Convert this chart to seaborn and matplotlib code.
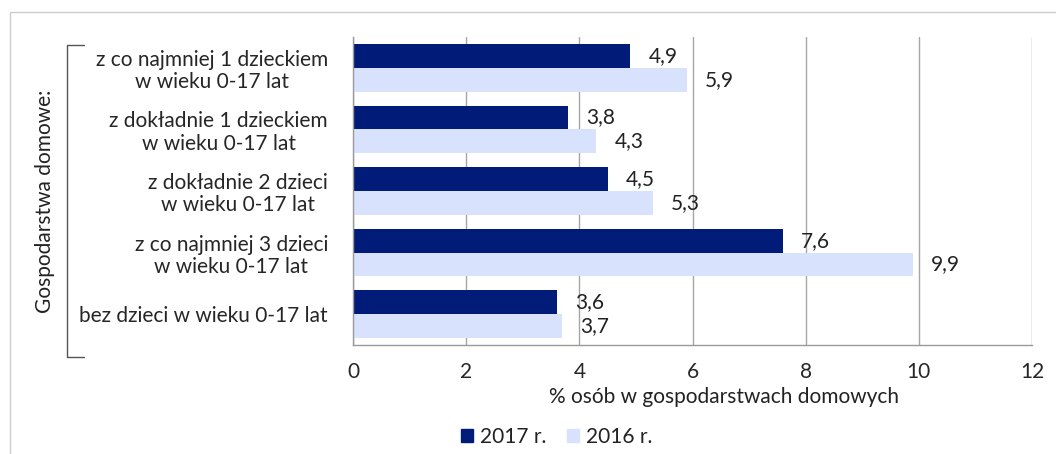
import matplotlib
matplotlib.use("Agg")
import matplotlib.pyplot as plt
import matplotlib.lines as mlines
import matplotlib.patches as mpatches
import seaborn as sns
import pandas as pd

# dane
kategorie = [
    "z co najmniej 1 dzieckiem\nw wieku 0-17 lat",
    "z dokładnie 1 dzieckiem\nw wieku 0-17 lat",
    "z dokładnie 2 dzieci\nw wieku 0-17 lat",
    "z co najmniej 3 dzieci\nw wieku 0-17 lat",
    "bez dzieci w wieku 0-17 lat",
]
lata = ["2017 r.", "2016 r."]
w2017 = [4.9, 3.8, 4.5, 7.6, 3.6]
w2016 = [5.9, 4.3, 5.3, 9.9, 3.7]
kolory = ["#001c78", "#d9e2fc"]

df = pd.DataFrame({
    "kategoria": kategorie * 2,
    "rok": [lata[0]] * 5 + [lata[1]] * 5,
    "wartosc": w2017 + w2016,
})

sns.set_theme(style="white")
plt.rcParams["font.family"] = ["Lato", "DejaVu Sans"]
plt.rcParams["text.color"] = "#222222"
FS = 15

fig = plt.figure(figsize=(10.56, 4.54), dpi=100)
ax = fig.add_axes([0.3343, 0.2401, 0.643, 0.6784])

sns.barplot(data=df, y="kategoria", x="wartosc", hue="rok", palette=kolory,
            orient="h", width=0.77, saturation=1, legend=False, linewidth=0,
            ax=ax)

# etykiety wartości
for cont in ax.containers:
    labels = [f"{v:.1f}".replace(".", ",") for v in cont.datavalues]
    ax.bar_label(cont, labels=labels, padding=13, fontsize=FS, color="#222222")

ax.set_xlim(0, 12)
ax.set_ylim(4.5, -0.5)
ax.set_xticks(range(0, 13, 2))
ax.set_xticklabels([str(t) for t in range(0, 13, 2)], fontsize=FS)
ax.set_xlabel("")
ax.set_ylabel("")
ax.set_yticks(range(5))
ax.set_yticklabels(kategorie, fontsize=FS, ha="right", multialignment="center",
                   linespacing=1.15)
ax.tick_params(axis="y", length=0, pad=18)
ax.set_yticks([i - 0.5 for i in range(6)], minor=True)
ax.tick_params(axis="y", which="minor", length=6, color="#999999", width=1)
ax.tick_params(axis="x", length=6, color="#999999", width=1, pad=6)
ax.xaxis.grid(True, color="#a6a6a6", linewidth=1)
ax.set_axisbelow(True)
for s in ["top", "right"]:
    ax.spines[s].set_visible(False)
for s in ["left", "bottom"]:
    ax.spines[s].set_color("#999999")
    ax.spines[s].set_linewidth(1)

fig.text(0.6856, 0.1256, "% osób w gospodarstwach domowych", ha="center",
         va="center", fontsize=FS)

# nawias i opis grupy
bx0, bx1, by0, by1 = 0.0634, 0.0795, 0.2137, 0.9009
fig.add_artist(mlines.Line2D([bx1, bx0, bx0, bx1], [by1, by1, by0, by0],
                             transform=fig.transFigure, color="#555555", lw=1))
fig.text(0.0426, 0.557, "Gospodarstwa domowe:", rotation=90, ha="center",
         va="center", fontsize=FS)

# ramka
fig.add_artist(mlines.Line2D([0.0095, 0.0095, 1.0], [0.0, 0.974, 0.974],
                             transform=fig.transFigure, color="#cccccc", lw=1))

handles = [mpatches.Patch(color=c, label=l) for c, l in zip(kolory, lata)]
fig.legend(handles=handles, loc="center", bbox_to_anchor=(0.527, 0.037),
           ncol=2, frameon=False, fontsize=FS, handlelength=0.6,
           handleheight=0.6, handletextpad=0.3, columnspacing=1.0)

fig.savefig("out.png", dpi=100)
